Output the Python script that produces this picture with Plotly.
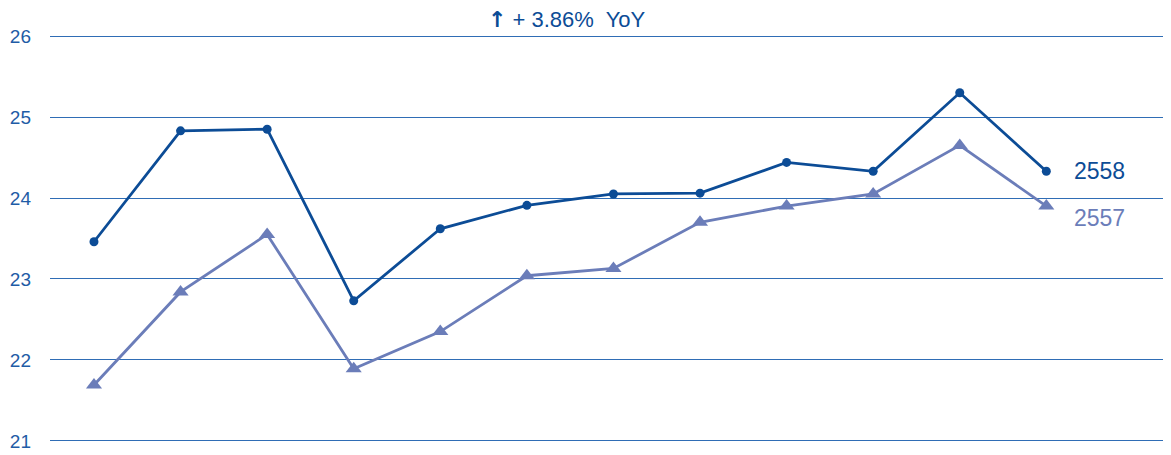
import plotly.graph_objects as go

x_idx = list(range(12))
s2558 = [23.46, 24.83, 24.85, 22.73, 23.62, 23.91, 24.05, 24.06, 24.44, 24.33, 25.30, 24.33]
s2557 = [21.69, 22.84, 23.55, 21.89, 22.35, 23.04, 23.13, 23.70, 23.90, 24.05, 24.65, 23.90]
y_ticks = [21, 22, 23, 24, 25, 26]

DARK = "#0C4C96"
LIGHT = "#6B7DB9"
GRID = "#2F6DB5"
FONT = "Liberation Sans, Arial, sans-serif"

fig = go.Figure()
fig.add_trace(go.Scatter(x=x_idx, y=s2557, mode="lines+markers", name="2557",
                         line=dict(color=LIGHT, width=2.8),
                         marker=dict(symbol="triangle-up", size=14, color=LIGHT)))
fig.add_trace(go.Scatter(x=x_idx, y=s2558, mode="lines+markers", name="2558",
                         line=dict(color=DARK, width=2.8),
                         marker=dict(symbol="circle", size=9, color=DARK)))

fig.add_annotation(x=11.3, y=s2558[-1], xref="x", yref="y", text="2558", showarrow=False,
                   xanchor="left", yanchor="middle", font=dict(family=FONT, size=23, color=DARK))
fig.add_annotation(x=11.3, y=s2557[-1] - 0.15, xref="x", yref="y", text="2557", showarrow=False,
                   xanchor="left", yanchor="middle", font=dict(family=FONT, size=23, color=LIGHT))
fig.add_annotation(x=0.461, y=1.02, xref="paper", yref="paper",
                   text="<span style='font-family:DejaVu Sans;font-weight:bold'>↑</span> + 3.86%  YoY",
                   showarrow=False,
                   xanchor="center", yanchor="middle", font=dict(family=FONT, size=22, color=DARK))

fig.update_layout(
    width=1163, height=447,
    margin=dict(l=42, r=0, t=20, b=6),
    paper_bgcolor="white", plot_bgcolor="white",
    showlegend=False,
    xaxis=dict(range=[-0.508, 12.44], showgrid=False, zeroline=False, showticklabels=False,
               showline=False, ticks=""),
    yaxis=dict(range=[20.9, 26.1], tickvals=y_ticks, showgrid=True, gridcolor=GRID, gridwidth=1.3,
               zeroline=False, showline=False, ticks="", ticklabelstandoff=18,
               tickfont=dict(family=FONT, size=19, color="#1F5CA6")),
)
fig.write_html("out.html")
